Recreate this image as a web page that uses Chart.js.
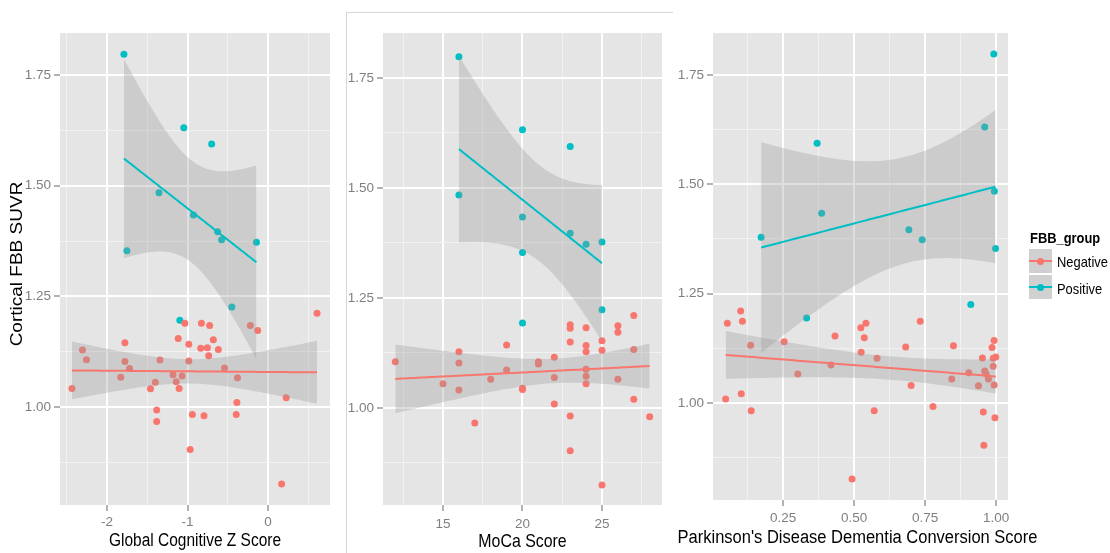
<!DOCTYPE html>
<html>
<head>
<meta charset="utf-8">
<script src="https://cdn.jsdelivr.net/npm/chart.js@4.4.0/dist/chart.umd.min.js"></script>
<style>
  html, body { margin: 0; padding: 0; background: #ffffff; }
  body { position: relative; width: 1110px; height: 553px; overflow: hidden; font-family: 'Liberation Sans', Arial, sans-serif; }
  canvas { position: absolute; top: 0; }
  #frame { position: absolute; left: 346px; top: 12px; width: 326px; height: 560px; border-left: 1px solid #d6d6d6; border-top: 1px solid #d6d6d6; }
  #legend { position: absolute; left: 0; top: 0; }
  #legend .ttl { position: absolute; left: 1030px; top: 229px; font-weight: bold; font-size: 15px; color: #000; white-space: nowrap; transform: scaleX(0.86); transform-origin: 0 50%; }
  #legend .key { position: absolute; left: 1029px; width: 23px; height: 24px; background: #d0d0d0; }
  #legend .key .ln { position: absolute; left: 0; top: 11px; width: 23px; height: 2px; }
  #legend .key .pt { position: absolute; left: 8px; top: 8.5px; width: 7px; height: 7px; border-radius: 50%; }
  #legend .lab { position: absolute; left: 1057px; font-size: 15px; color: #000; white-space: nowrap; transform: scaleX(0.86); transform-origin: 0 50%; }
</style>
</head>
<body>
<div id="frame"></div>
<canvas id="gcz" width="340" height="553" style="left:0px"></canvas>
<canvas id="moca" width="332" height="553" style="left:340px"></canvas>
<canvas id="pddcs" width="380" height="553" style="left:665px"></canvas>
<div id="legend">
  <div class="ttl">FBB_group</div>
  <div class="key" style="top:249px"><div class="ln" style="background:#F8766D"></div><div class="pt" style="background:#F8766D"></div></div>
  <div class="lab" style="top:253px">Negative</div>
  <div class="key" style="top:275px"><div class="ln" style="background:#00BFC4"></div><div class="pt" style="background:#00BFC4"></div></div>
  <div class="lab" style="top:280px">Positive</div>
</div>
<script>
// ---- Cortical FBB SUVR against three clinical scores, split by FBB group ----

// Global Cognitive Z Score
const gczNegX = [-2.436, -2.305, -2.255, -1.778, -1.778, -1.72, -1.83, -1.40, -1.46, -1.342, -1.383, -1.383, -1.115, -1.18, -1.14, -1.104, -1.067, -1.033, -0.984, -0.984, -0.94, -0.967, -0.827, -0.725, -0.836, -0.753, -0.679, -0.617, -0.737, -0.795, -0.54, -0.379, -0.387, -0.395, -0.219, -0.128, 0.226, 0.169, 0.609];
const gczNegY = [1.042, 1.129, 1.107, 1.145, 1.103, 1.087, 1.067, 1.056, 1.041, 1.106, 0.993, 0.967, 1.155, 1.073, 1.057, 1.042, 1.070, 1.189, 1.142, 1.104, 0.983, 0.904, 1.189, 1.184, 1.133, 1.134, 1.152, 1.130, 1.116, 0.980, 1.088, 1.066, 1.010, 0.983, 1.184, 1.173, 1.021, 0.826, 1.212];
const gczPosX = [-1.79, -1.046, -0.70, -1.354, -0.926, -0.626, -0.577, -0.144, -1.753, -0.449, -1.095];
const gczPosY = [1.797, 1.631, 1.594, 1.484, 1.434, 1.396, 1.378, 1.372, 1.353, 1.226, 1.196];

// MoCa Score
const mocaNegX = [12, 15, 16, 16, 16, 17, 18, 19, 19, 20, 20, 21, 21, 22, 22, 22, 23, 23, 23, 23, 23, 24, 24, 24, 24, 24, 24, 25, 25, 25, 26, 26, 26, 27, 27, 27, 28];
const mocaNegY = [1.105, 1.055, 1.128, 1.102, 1.041, 0.966, 1.065, 1.143, 1.086, 1.042, 1.045, 1.105, 1.100, 1.115, 1.069, 1.009, 1.189, 1.181, 1.150, 0.982, 0.903, 1.182, 1.142, 1.128, 1.088, 1.072, 1.055, 1.153, 1.131, 0.825, 1.187, 1.172, 1.065, 1.210, 1.133, 1.020, 0.980];
const mocaPosX = [16, 20, 23, 16, 20, 23, 24, 25, 20, 25, 20];
const mocaPosY = [1.798, 1.632, 1.594, 1.484, 1.434, 1.397, 1.372, 1.377, 1.353, 1.223, 1.193];

// Parkinson's Disease Dementia Conversion Score
const pddNegX = [0.048, 0.054, 0.101, 0.107, 0.103, 0.136, 0.138, 0.254, 0.302, 0.419, 0.433, 0.524, 0.542, 0.536, 0.525, 0.581, 0.571, 0.493, 0.682, 0.701, 0.733, 0.778, 0.850, 0.844, 0.904, 0.952, 0.938, 0.955, 0.957, 0.960, 0.965, 0.973, 0.993, 0.986, 0.990, 0.999, 0.990, 0.993, 0.996];
const pddNegY = [1.009, 1.182, 1.210, 1.187, 1.021, 1.132, 0.982, 1.140, 1.066, 1.087, 1.153, 1.172, 1.182, 1.149, 1.116, 1.102, 0.982, 0.826, 1.128, 1.040, 1.187, 0.992, 1.131, 1.055, 1.069, 1.103, 1.039, 0.979, 0.903, 1.073, 1.066, 1.055, 1.143, 1.127, 1.102, 1.105, 1.084, 1.041, 0.966];
const pddPosX = [0.992, 0.96, 0.37, 0.994, 0.386, 0.693, 0.74, 0.173, 0.998, 0.911, 0.333];
const pddPosY = [1.798, 1.631, 1.594, 1.484, 1.434, 1.396, 1.373, 1.379, 1.353, 1.225, 1.194];

// Axis ticks
const suvrTicks = [1.00, 1.25, 1.50, 1.75];
const suvrTickLabels = ['1.00', '1.25', '1.50', '1.75'];
const suvrMinor = [0.875, 1.125, 1.375, 1.625];
const gczTicks = [-2, -1, 0];
const gczTickLabels = ['-2', '-1', '0'];
const gczMinor = [-2.5, -1.5, -0.5, 0.5];
const mocaTicks = [15, 20, 25];
const mocaTickLabels = ['15', '20', '25'];
const mocaMinor = [12.5, 17.5, 22.5, 27.5];
const pddTicks = [0.25, 0.50, 0.75, 1.00];
const pddTickLabels = ['0.25', '0.50', '0.75', '1.00'];
const pddMinor = [0.125, 0.375, 0.625, 0.875];

const groupNames = ['Negative', 'Positive'];
const NEG = '#F8766D', POS = '#00BFC4';
const BAND = 'rgba(153,153,153,0.32)';
const FONT = "'Liberation Sans', Arial, sans-serif";

Chart.defaults.font.family = FONT;

// Student t 97.5% quantile (Cornish-Fisher expansion)
function t975(df) {
  const z = 1.959964;
  const z3 = z ** 3, z5 = z ** 5, z7 = z ** 7, z9 = z ** 9;
  const g1 = (z3 + z) / 4;
  const g2 = (5 * z5 + 16 * z3 + 3 * z) / 96;
  const g3 = (3 * z7 + 19 * z5 + 17 * z3 - 15 * z) / 384;
  const g4 = (79 * z9 + 776 * z7 + 1482 * z5 - 1920 * z3 - 945 * z) / 92160;
  return z + g1 / df + g2 / df ** 2 + g3 / df ** 3 + g4 / df ** 4;
}

// Least-squares line with a 95% confidence band, over the group's x range
function linearSmooth(xs, ys, steps = 80) {
  const n = xs.length;
  const mx = xs.reduce((a, b) => a + b, 0) / n;
  const my = ys.reduce((a, b) => a + b, 0) / n;
  let sxx = 0, sxy = 0;
  for (let i = 0; i < n; i++) { sxx += (xs[i] - mx) ** 2; sxy += (xs[i] - mx) * (ys[i] - my); }
  const b = sxy / sxx, a = my - b * mx;
  let sse = 0;
  for (let i = 0; i < n; i++) sse += (ys[i] - a - b * xs[i]) ** 2;
  const s = Math.sqrt(sse / (n - 2));
  const t = t975(n - 2);
  const lo = Math.min(...xs), hi = Math.max(...xs);
  const fit = [], upper = [], lower = [];
  for (let i = 0; i < steps; i++) {
    const x = lo + (hi - lo) * i / (steps - 1);
    const yhat = a + b * x;
    const se = s * Math.sqrt(1 / n + (x - mx) ** 2 / sxx);
    fit.push({ x, y: yhat });
    upper.push({ x, y: yhat + t * se });
    lower.push({ x, y: yhat - t * se });
  }
  return { fit, upper, lower };
}

const toPoints = (xs, ys) => xs.map((x, i) => ({ x, y: ys[i] }));

// Grey panel behind the grid
const panelBackground = {
  id: 'panelBackground',
  beforeDraw(chart) {
    const { ctx, chartArea: a } = chart;
    ctx.save();
    ctx.fillStyle = '#E5E5E5';
    ctx.fillRect(a.left, a.top, a.right - a.left, a.bottom - a.top);
    ctx.restore();
  }
};

// Axis titles in a slightly condensed face; the long x title may run past the panel
const axisTitles = {
  id: 'axisTitles',
  afterDraw(chart, args, o) {
    const { ctx, chartArea: a } = chart;
    ctx.save();
    ctx.fillStyle = '#000';
    ctx.textAlign = 'center';
    ctx.textBaseline = 'middle';
    if (o.x) {
      ctx.save();
      ctx.font = `${o.xSize}px ${FONT}`;
      ctx.translate((a.left + a.right) / 2 + (o.xShift || 0), o.xCenterY);
      ctx.scale(o.squeeze, 1);
      ctx.fillText(o.x, 0, 0);
      ctx.restore();
    }
    if (o.y) {
      ctx.save();
      ctx.font = `${o.ySize}px ${FONT}`;
      ctx.translate(o.yCenterX, o.yCenterY);
      ctx.rotate(-Math.PI / 2);
      ctx.scale(1, o.squeeze);
      ctx.fillText(o.y, 0, 0);
      ctx.restore();
    }
    ctx.restore();
  }
};

function tickSet(major, minor) {
  return major.map(v => ({ value: v, minor: false }))
    .concat(minor.map(v => ({ value: v, minor: true })))
    .sort((p, q) => p.value - q.value);
}

function gridStyle() {
  return {
    drawTicks: true,
    tickLength: 6,
    color: c => (c.tick && c.tick.minor) ? '#F2F2F2' : '#FFFFFF',
    lineWidth: c => (c.tick && c.tick.minor) ? 1 : 2,
    tickColor: c => (c.tick && c.tick.minor) ? 'rgba(0,0,0,0)' : '#7F7F7F',
    tickWidth: 1.2
  };
}

function makePanel(id, p) {
  const neg = linearSmooth(p.negX, p.negY);
  const pos = linearSmooth(p.posX, p.posY);
  const lineOpts = { pointRadius: 0, showLine: true, fill: false, tension: 0 };
  const datasets = [
    // points sit beneath the smoothers
    { label: groupNames[0], data: toPoints(p.negX, p.negY), showLine: false, pointRadius: 3.5, pointBorderWidth: 0, pointBackgroundColor: NEG, order: 5 },
    { label: groupNames[1], data: toPoints(p.posX, p.posY), showLine: false, pointRadius: 3.5, pointBorderWidth: 0, pointBackgroundColor: POS, order: 5 },
    // Negative: band then fitted line
    { label: 'negUpper', data: neg.upper, ...lineOpts, borderWidth: 0, borderColor: 'rgba(0,0,0,0)', fill: '+1', backgroundColor: BAND, order: 4 },
    { label: 'negLower', data: neg.lower, ...lineOpts, borderWidth: 0, borderColor: 'rgba(0,0,0,0)', order: 4 },
    { label: 'negFit', data: neg.fit, ...lineOpts, borderWidth: 2, borderColor: NEG, order: 3 },
    // Positive: band then fitted line
    { label: 'posUpper', data: pos.upper, ...lineOpts, borderWidth: 0, borderColor: 'rgba(0,0,0,0)', fill: '+1', backgroundColor: BAND, order: 2 },
    { label: 'posLower', data: pos.lower, ...lineOpts, borderWidth: 0, borderColor: 'rgba(0,0,0,0)', order: 2 },
    { label: 'posFit', data: pos.fit, ...lineOpts, borderWidth: 2, borderColor: POS, order: 1 }
  ];

  return new Chart(document.getElementById(id), {
    type: 'line',
    data: { datasets },
    plugins: [panelBackground, axisTitles],
    options: {
      responsive: false,
      animation: false,
      devicePixelRatio: 1,
      events: [],
      layout: { autoPadding: false, padding: { top: 33, right: p.padRight, left: 0, bottom: 0 } },
      plugins: {
        legend: { display: false },
        tooltip: { enabled: false },
        axisTitles: {
          x: p.xTitle, xSize: p.xTitleSize, xCenterY: p.xTitleY, xShift: p.xTitleShift || 0,
          y: p.yTitle, ySize: 19, yCenterX: 17, yCenterY: 264,
          squeeze: 0.86
        }
      },
      scales: {
        x: {
          type: 'linear', min: p.xMin, max: p.xMax,
          border: { display: false },
          grid: gridStyle(),
          afterBuildTicks: s => { s.ticks = tickSet(p.xTicks, p.xMinor); },
          afterFit: s => { s.height = p.xAxisHeight; },
          ticks: {
            autoSkip: false, maxRotation: 0, padding: p.xTickPad,
            color: '#7F7F7F', font: { size: 13.5 },
            callback: (v) => { const k = p.xTicks.indexOf(v); return k >= 0 ? p.xLabels[k] : ''; }
          },
          title: { display: false }
        },
        y: {
          type: 'linear', min: p.yMin, max: p.yMax,
          border: { display: false },
          grid: gridStyle(),
          afterBuildTicks: s => { s.ticks = tickSet(suvrTicks, suvrMinor); },
          afterFit: s => { s.width = p.yAxisWidth; },
          ticks: {
            autoSkip: false, padding: 3,
            color: '#7F7F7F', font: { size: 13.5 },
            callback: (v) => { const k = suvrTicks.indexOf(v); return k >= 0 ? suvrTickLabels[k] : ''; }
          },
          title: { display: false }
        }
      }
    }
  });
}

makePanel('gcz', {
  negX: gczNegX, negY: gczNegY, posX: gczPosX, posY: gczPosY,
  xMin: -2.584, xMax: 0.770, yMin: 0.7786, yMax: 1.845,
  xTicks: gczTicks, xLabels: gczTickLabels, xMinor: gczMinor,
  xTitle: 'Global Cognitive Z Score', yTitle: 'Cortical FBB SUVR',
  padRight: 10, yAxisWidth: 60, xAxisHeight: 48, xTickPad: 3, xTitleY: 541, xTitleSize: 18
});

makePanel('moca', {
  negX: mocaNegX, negY: mocaNegY, posX: mocaPosX, posY: mocaPosY,
  xMin: 11.226, xMax: 28.774, yMin: 0.7795, yMax: 1.852,
  xTicks: mocaTicks, xLabels: mocaTickLabels, xMinor: mocaMinor,
  xTitle: 'MoCa Score', yTitle: null,
  padRight: 10, yAxisWidth: 43, xAxisHeight: 48, xTickPad: 5, xTitleY: 542, xTitleSize: 18.5
});

makePanel('pddcs', {
  negX: pddNegX, negY: pddNegY, posX: pddPosX, posY: pddPosY,
  xMin: 0.0035, xMax: 1.042, yMin: 0.778, yMax: 1.846,
  xTicks: pddTicks, xLabels: pddTickLabels, xMinor: pddMinor,
  xTitle: "Parkinson's Disease Dementia Conversion Score", yTitle: null,
  padRight: 37, yAxisWidth: 48, xAxisHeight: 53, xTickPad: 4, xTitleY: 538, xTitleShift: -3, xTitleSize: 19.2
});
</script>
</body>
</html>
